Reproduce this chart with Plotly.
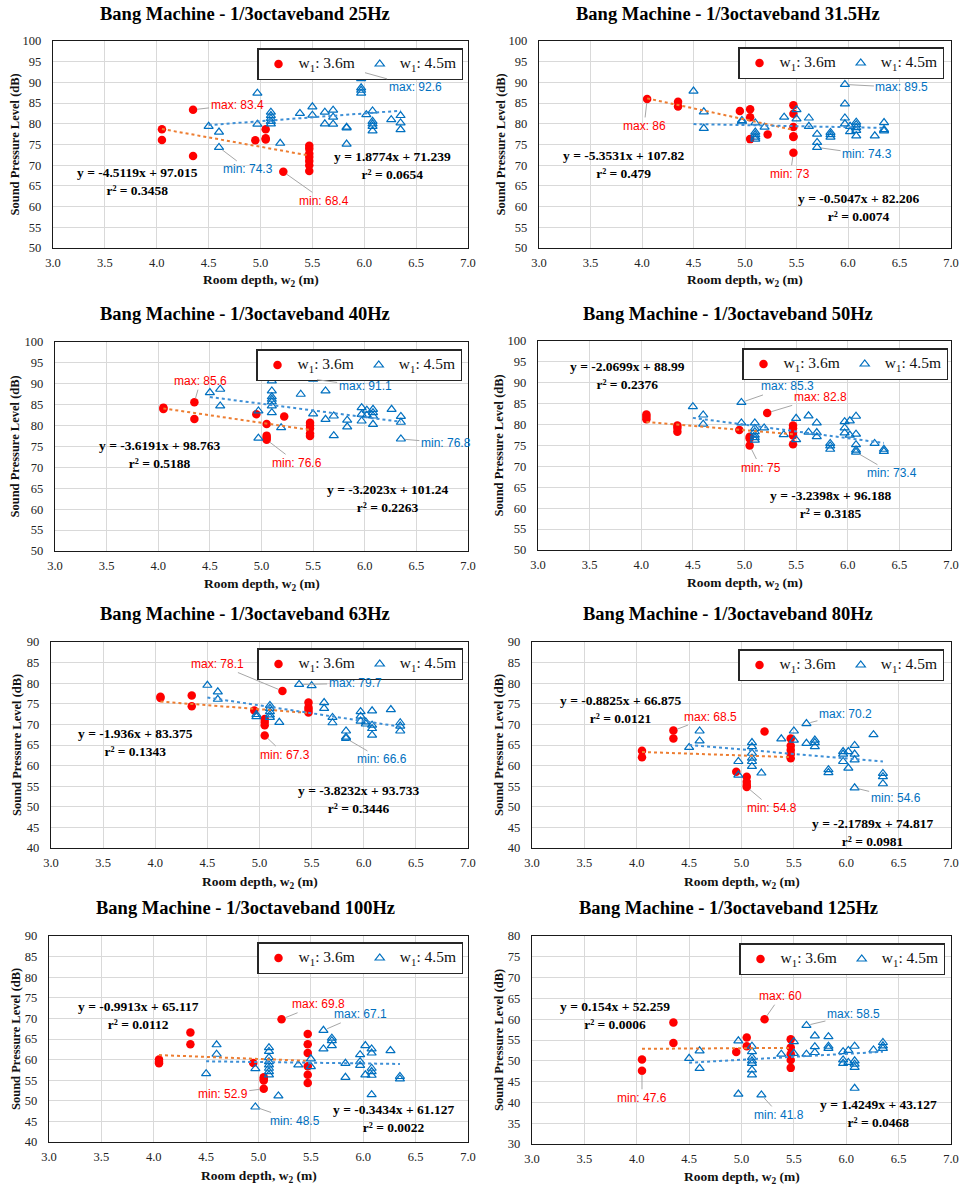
import plotly.graph_objects as go

W, H = 963, 1185

bands = ["25Hz", "31.5Hz", "40Hz", "50Hz", "63Hz", "80Hz", "100Hz", "125Hz"]

# ---------------- data (w1 = 3.6 m, red) ----------------
red_x_25 = [4.05, 4.05, 4.35, 4.35, 4.95, 5.05, 5.05, 5.05, 5.22, 5.47, 5.47, 5.47, 5.47, 5.47, 5.47, 5.47]
red_y_25 = [78.7, 76.1, 83.4, 72.2, 76.0, 78.7, 76.2, 76.5, 68.4, 74.7, 74.0, 72.8, 72.0, 71.0, 70.0, 68.6]

red_x_31 = [4.05, 4.35, 4.35, 4.95, 5.05, 5.05, 5.05, 5.22, 5.47, 5.47, 5.47, 5.47, 5.47, 5.47]
red_y_31 = [86.0, 85.3, 84.2, 83.1, 83.5, 81.6, 76.3, 77.4, 84.5, 82.4, 79.2, 77.0, 76.8, 73.0]

red_x_40 = [4.05, 4.05, 4.35, 4.35, 4.95, 5.05, 5.05, 5.05, 5.05, 5.22, 5.47, 5.47, 5.47, 5.47, 5.47]
red_y_40 = [84.3, 84.0, 85.6, 81.6, 82.7, 80.4, 77.6, 77.1, 76.6, 82.2, 80.7, 80.0, 79.3, 78.1, 77.5]

red_x_50 = [4.05, 4.05, 4.05, 4.35, 4.35, 4.35, 4.95, 5.05, 5.05, 5.05, 5.22, 5.47, 5.47, 5.47, 5.47, 5.47]
red_y_50 = [82.4, 81.9, 81.3, 79.8, 79.2, 78.3, 78.7, 77.1, 76.7, 75.0, 82.8, 79.8, 79.1, 78.1, 77.4, 75.3]

red_x_63 = [4.05, 4.05, 4.35, 4.35, 4.95, 5.05, 5.05, 5.05, 5.05, 5.22, 5.47, 5.47, 5.47, 5.47]
red_y_63 = [76.7, 76.4, 77.0, 74.4, 73.4, 71.3, 70.6, 69.8, 67.3, 78.1, 75.3, 74.1, 73.5, 72.9]

red_x_80 = [4.05, 4.05, 4.35, 4.35, 4.95, 5.05, 5.05, 5.05, 5.05, 5.22, 5.47, 5.47, 5.47, 5.47, 5.47]
red_y_80 = [63.6, 62.0, 68.5, 66.6, 58.5, 57.3, 56.1, 55.3, 54.8, 68.3, 66.6, 64.8, 63.8, 62.8, 61.8]

red_x_100 = [4.05, 4.05, 4.05, 4.35, 4.35, 4.95, 5.05, 5.05, 5.05, 5.05, 5.22, 5.47, 5.47, 5.47, 5.47, 5.47, 5.47]
red_y_100 = [60.0, 59.5, 59.1, 66.6, 63.7, 59.2, 55.7, 55.3, 54.9, 52.9, 69.8, 66.2, 63.7, 61.6, 58.4, 56.3, 54.3]

red_x_125 = [4.05, 4.05, 4.35, 4.35, 4.95, 5.05, 5.05, 5.22, 5.47, 5.47, 5.47, 5.47, 5.47]
red_y_125 = [50.3, 47.6, 59.2, 54.3, 52.1, 55.6, 53.5, 60.0, 55.2, 53.2, 51.6, 50.2, 48.3]

# ---------------- data (w1 = 4.5 m, blue) ----------------
blue_x_25 = [4.5, 4.6, 4.6, 4.97, 4.97, 5.1, 5.1, 5.1, 5.1, 5.1, 5.19, 5.38, 5.5, 5.5, 5.62, 5.62,
             5.7, 5.7, 5.7, 5.83, 5.83, 5.83, 5.97, 5.97, 5.97, 5.97, 5.97, 6.02, 6.08, 6.08, 6.08,
             6.08, 6.08, 6.26, 6.35, 6.35, 6.35]
blue_y_25 = [79.4, 78.0, 74.3, 87.4, 79.9, 82.8, 82.0, 81.3, 80.6, 80.0, 75.3, 82.5, 84.1, 82.1, 82.8, 80.0,
             83.3, 81.6, 79.9, 79.2, 79.0, 75.1, 92.6, 90.9, 88.7, 88.1, 87.4, 82.2, 83.1, 80.6, 80.0,
             79.4, 78.3, 81.0, 82.0, 80.2, 78.6]

blue_x_31 = [4.5, 4.6, 4.6, 4.97, 4.97, 5.1, 5.1, 5.1, 5.1, 5.1, 5.19, 5.38, 5.5, 5.5, 5.62, 5.62,
             5.7, 5.7, 5.7, 5.83, 5.83, 5.83, 5.97, 5.97, 5.97, 5.97, 6.02, 6.02, 6.08, 6.08, 6.08,
             6.08, 6.08, 6.26, 6.35, 6.35, 6.35]
blue_y_31 = [87.9, 82.9, 78.9, 80.8, 80.5, 80.2, 78.0, 77.4, 76.8, 76.3, 79.2, 81.6, 83.4, 81.2, 81.4, 79.4,
             77.5, 75.5, 74.3, 77.9, 77.4, 76.8, 89.5, 84.8, 81.4, 80.0, 79.4, 78.1, 80.4, 79.8, 79.1,
             78.4, 77.1, 77.1, 80.3, 78.6, 78.3]

blue_x_40 = [4.5, 4.6, 4.6, 4.97, 4.97, 5.1, 5.1, 5.1, 5.1, 5.1, 5.1, 5.1, 5.19, 5.38, 5.5, 5.5, 5.62,
             5.62, 5.7, 5.7, 5.83, 5.83, 5.97, 5.97, 5.97, 6.02, 6.02, 6.08, 6.08, 6.08, 6.08, 6.26,
             6.35, 6.35, 6.35]
blue_y_40 = [87.9, 88.7, 84.7, 83.5, 77.0, 90.7, 88.3, 86.9, 86.3, 85.7, 84.7, 83.1, 79.5, 87.5, 91.1, 82.8, 88.3,
             81.5, 82.3, 77.6, 81.3, 79.7, 84.3, 82.7, 81.1, 83.7, 82.5, 83.9, 83.1, 82.3, 80.3, 83.9,
             82.2, 80.8, 76.8]

blue_x_50 = [4.5, 4.6, 4.6, 4.97, 4.97, 5.1, 5.1, 5.1, 5.1, 5.1, 5.1, 5.19, 5.38, 5.5, 5.5, 5.62, 5.62,
             5.7, 5.7, 5.7, 5.83, 5.83, 5.83, 5.97, 5.97, 5.97, 6.02, 6.02, 6.08, 6.08, 6.08, 6.08,
             6.08, 6.26, 6.35, 6.35]
blue_y_50 = [84.3, 82.3, 80.1, 85.3, 80.4, 80.4, 79.1, 78.3, 77.5, 76.9, 76.3, 79.2, 77.6, 81.5, 76.4, 82.1, 78.2,
             80.4, 78.1, 77.1, 75.5, 74.9, 74.1, 80.7, 79.2, 78.0, 80.9, 77.5, 82.0, 77.7, 75.2, 73.9,
             73.4, 75.5, 74.1, 73.6]

blue_x_63 = [4.5, 4.6, 4.6, 4.97, 4.97, 5.1, 5.1, 5.1, 5.1, 5.1, 5.19, 5.38, 5.5, 5.62, 5.62, 5.7, 5.7,
             5.83, 5.83, 5.83, 5.97, 5.97, 5.97, 6.02, 6.02, 6.08, 6.08, 6.08, 6.08, 6.26, 6.35, 6.35,
             6.35]
blue_y_63 = [79.5, 77.9, 76.1, 72.4, 71.9, 74.6, 73.9, 73.1, 72.3, 71.7, 70.5, 79.7, 79.4, 75.3, 73.9, 71.7, 70.4,
             68.4, 66.9, 66.6, 73.1, 72.0, 70.8, 70.6, 70.1, 73.3, 69.8, 69.0, 67.4, 73.6, 70.4, 69.6,
             68.4]

blue_x_80 = [4.5, 4.6, 4.6, 4.97, 4.97, 5.1, 5.1, 5.1, 5.1, 5.1, 5.1, 5.19, 5.38, 5.5, 5.5, 5.62, 5.62,
             5.7, 5.7, 5.7, 5.83, 5.83, 5.97, 5.97, 5.97, 6.02, 6.02, 6.08, 6.08, 6.08, 6.08, 6.26,
             6.35, 6.35, 6.35]
blue_y_80 = [64.4, 68.4, 66.0, 61.0, 57.7, 65.6, 64.6, 63.0, 61.8, 61.0, 59.8, 58.2, 66.5, 68.4, 66.2, 70.2, 65.4,
             66.2, 65.6, 64.6, 59.0, 58.3, 63.4, 62.8, 61.0, 63.4, 59.4, 64.9, 62.8, 61.4, 54.6, 67.5,
             58.1, 57.3, 55.6]

blue_x_100 = [4.5, 4.6, 4.6, 4.97, 4.97, 5.1, 5.1, 5.1, 5.1, 5.1, 5.1, 5.1, 5.1, 5.19, 5.38, 5.5, 5.5,
              5.62, 5.62, 5.7, 5.7, 5.7, 5.83, 5.83, 5.97, 5.97, 5.97, 6.02, 6.02, 6.08, 6.08, 6.08,
              6.08, 6.08, 6.08, 6.26, 6.35, 6.35]
blue_y_100 = [56.6, 63.6, 61.3, 57.8, 48.5, 62.9, 62.0, 60.5, 59.5, 58.7, 57.9, 57.1, 56.3, 51.2, 58.7, 60.2, 58.3,
              67.1, 62.6, 65.2, 64.6, 63.4, 59.1, 55.7, 61.2, 59.5, 58.6, 63.4, 56.3, 62.6, 61.6, 57.9,
              57.1, 56.2, 51.5, 62.2, 55.9, 55.3]

blue_x_125 = [4.5, 4.6, 4.6, 4.97, 4.97, 5.1, 5.1, 5.1, 5.1, 5.1, 5.1, 5.1, 5.19, 5.38, 5.5, 5.5, 5.62,
              5.62, 5.7, 5.7, 5.7, 5.83, 5.83, 5.83, 5.97, 5.97, 5.97, 6.02, 6.02, 6.08, 6.08, 6.08,
              6.08, 6.08, 6.26, 6.35, 6.35, 6.35]
blue_y_125 = [50.6, 52.4, 48.2, 54.8, 42.0, 53.5, 52.2, 50.8, 50.0, 49.4, 47.8, 46.6, 41.8, 51.6, 54.6, 51.8, 58.5,
              51.6, 56.0, 53.4, 52.0, 55.8, 53.5, 53.0, 52.2, 50.2, 49.4, 52.5, 49.6, 53.5, 50.0, 49.2,
              48.4, 43.4, 52.6, 54.4, 53.6, 53.0]

red_x = [red_x_25, red_x_31, red_x_40, red_x_50, red_x_63, red_x_80, red_x_100, red_x_125]
red_y = [red_y_25, red_y_31, red_y_40, red_y_50, red_y_63, red_y_80, red_y_100, red_y_125]
blue_x = [blue_x_25, blue_x_31, blue_x_40, blue_x_50, blue_x_63, blue_x_80, blue_x_100, blue_x_125]
blue_y = [blue_y_25, blue_y_31, blue_y_40, blue_y_50, blue_y_63, blue_y_80, blue_y_100, blue_y_125]

# linear trendlines (as printed on the chart)
red_slope = [-4.5119, -5.3531, -3.6191, -2.0699, -1.936, -0.8825, -0.9913, 0.154]
red_intercept = [97.015, 107.82, 98.763, 88.99, 83.375, 66.875, 65.117, 52.259]
red_r2 = ["0.3458", "0.479", "0.5188", "0.2376", "0.1343", "0.0121", "0.0112", "0.0006"]
blue_slope = [1.8774, -0.5047, -3.2023, -3.2398, -3.8232, -2.1789, -0.3434, 1.4249]
blue_intercept = [71.239, 82.206, 101.24, 96.188, 93.733, 74.817, 61.127, 43.127]
blue_r2 = ["0.0654", "0.0074", "0.2263", "0.3185", "0.3446", "0.0981", "0.0022", "0.0468"]

y_ranges = [(50, 100), (50, 100), (50, 100), (50, 100), (40, 90), (40, 90), (40, 90), (30, 80)]

# ---------------- layout geometry (pixels) ----------------
rects = [(53, 468, 41, 248), (539, 951, 41, 248), (55, 468, 342, 551), (538, 951, 341, 550),
         (51, 468, 642, 848), (532, 951, 642, 848), (49, 468, 936, 1142), (532, 951, 936, 1144)]
title_pos = [(245, 14), (728, 14), (245, 314), (728, 314), (245, 614), (728, 614), (245, 908), (728, 908)]
ytitle_x = [14, 500, 15, 498, 17, 499, 16, 499]
xtitle_y = [281, 281, 584, 583, 882, 882, 1176, 1177]
legend_box = [(463, 48), (944, 47), (462, 349), (948, 348), (463, 648), (944, 649), (463, 942), (945, 943)]
red_eq_pos = [(137, 181), (623, 164), (159, 454), (627, 375), (135, 742), (620, 709), (138, 1015), (615, 1015)]
blue_eq_pos = [(392, 166), (858, 207), (387, 498), (830, 504), (358, 799), (872, 832), (393, 1118), (878, 1113)]
# label offsets: red max, red min, blue max, blue min
lbl_off = [
    [(44, -5), (41, 29), (54, 15), (29, 22)],
    [(-3, 27), (-3, 21), (57, 3), (50, 7)],
    [(6, -21), (30, 23), (52, 7), (45, 4)],
    [(53, -16), (11, 22), (46, -16), (36, 21)],
    [(-65, -27), (20, 19), (56, -1), (36, 21)],
    [(37, -14), (25, 21), (39, -10), (41, 10)],
    [(37, -15), (-41, 5), (37, -16), (40, 14)],
    [(16, -23), (0, 27), (47, -11), (18, 20)],
]

RED = "#FF0000"
BLUE = "#0070C0"
ORANGE = "#ED7D31"
LBLUE = "#3D8FD6"
SERIF = "Liberation Serif"
SANS = "Liberation Sans"


def px(x):
    return x / W


def py(y):
    return 1 - y / H


fig = go.Figure()
layout = dict(width=W, height=H, autosize=False, margin=dict(l=0, r=0, t=0, b=0, pad=0, autoexpand=False),
              paper_bgcolor="white", plot_bgcolor="white", showlegend=True)
annotations = []


def fmt(v):
    return f"{v:g}"


def leg_name(t):
    return "<span style='font-size:15.5px'>" + t + "</span>"


for i in range(8):
    n = i + 1
    xa = "x" if n == 1 else f"x{n}"
    ya = "y" if n == 1 else f"y{n}"
    lg = "legend" if n == 1 else f"legend{n}"
    l, r, t, b = rects[i]

    layout["xaxis" if n == 1 else f"xaxis{n}"] = dict(
        domain=[px(l), px(r)], anchor=ya, range=[3, 7], dtick=0.5, tick0=3, tickformat=".1f",
        showgrid=True, gridcolor="#D9D9D9", gridwidth=1, zeroline=False, automargin=False,
        showline=True, mirror=True, linecolor="#1a1a1a", linewidth=1.3,
        tickfont=dict(family=SERIF, size=12.5, color="#222"), ticks="", ticklabelstandoff=3)
    layout["yaxis" if n == 1 else f"yaxis{n}"] = dict(
        domain=[py(b), py(t)], anchor=xa, range=list(y_ranges[i]), dtick=5,
        showgrid=True, gridcolor="#D9D9D9", gridwidth=1, zeroline=False, automargin=False,
        showline=True, mirror=True, linecolor="#1a1a1a", linewidth=1.3,
        tickfont=dict(family=SERIF, size=12.5, color="#222"), ticks="", ticklabelstandoff=8)

    lx, ly = legend_box[i]
    layout[lg] = dict(x=px(lx), y=py(ly), xanchor="right", yanchor="top", orientation="h",
                      bgcolor="white", bordercolor="#262626", borderwidth=1.5,
                      font=dict(family=SERIF, size=11, color="#111"), itemsizing="trace",
                      tracegroupgap=0)

    fig.add_trace(go.Scatter(
        x=red_x[i], y=red_y[i], mode="markers", xaxis=xa, yaxis=ya, legend=lg,
        name=leg_name("w<sub>1</sub>: 3.6m"),
        marker=dict(symbol="circle", size=8.5, color=RED, line=dict(width=0))))
    fig.add_trace(go.Scatter(
        x=blue_x[i], y=blue_y[i], mode="markers", xaxis=xa, yaxis=ya, legend=lg,
        name=leg_name("w<sub>1</sub>: 4.5m"),
        marker=dict(symbol="triangle-up-open", size=8, color=BLUE, line=dict(width=1.2, color=BLUE))))

    # trendlines
    rx0, rx1 = min(red_x[i]), max(red_x[i])
    fig.add_trace(go.Scatter(
        x=[rx0, rx1], y=[red_slope[i] * rx0 + red_intercept[i], red_slope[i] * rx1 + red_intercept[i]],
        mode="lines", xaxis=xa, yaxis=ya, showlegend=False, hoverinfo="skip",
        line=dict(color=ORANGE, width=2, dash="dot")))
    bx0, bx1 = min(blue_x[i]), max(blue_x[i])
    fig.add_trace(go.Scatter(
        x=[bx0, bx1], y=[blue_slope[i] * bx0 + blue_intercept[i], blue_slope[i] * bx1 + blue_intercept[i]],
        mode="lines", xaxis=xa, yaxis=ya, showlegend=False, hoverinfo="skip",
        line=dict(color=LBLUE, width=2, dash="dot")))

    # titles
    tx, ty = title_pos[i]
    annotations.append(dict(xref="paper", yref="paper", x=px(tx), y=py(ty), xanchor="center", yanchor="middle",
                            text="<b>Bang Machine - 1/3octaveband " + bands[i] + "</b>", showarrow=False,
                            font=dict(family=SERIF, size=18.5, color="#000")))
    annotations.append(dict(xref="paper", yref="paper", x=px(ytitle_x[i]), y=py((t + b) / 2),
                            xanchor="center", yanchor="middle", textangle=-90,
                            text="<b>Sound Pressure Level (dB)</b>", showarrow=False,
                            font=dict(family=SERIF, size=12.5, color="#111")))
    annotations.append(dict(xref="paper", yref="paper", x=px((l + r) / 2), y=py(xtitle_y[i]),
                            xanchor="center", yanchor="middle",
                            text="<b>Room depth, w<sub>2</sub> (m)</b>", showarrow=False,
                            font=dict(family=SERIF, size=13.5, color="#111")))

    # equations
    for (ex, ey), s, c, r2 in [(red_eq_pos[i], red_slope[i], red_intercept[i], red_r2[i]),
                               (blue_eq_pos[i], blue_slope[i], blue_intercept[i], blue_r2[i])]:
        annotations.append(dict(xref="paper", yref="paper", x=px(ex), y=py(ey), xanchor="center",
                                yanchor="middle", showarrow=False, align="center",
                                text=f"<b>y = {fmt(s)}x + {fmt(c)}<br>r² = {r2}</b>",
                                font=dict(family=SERIF, size=13.5, color="#000")))

    # max / min labels
    ry, by = red_y[i], blue_y[i]
    items = [
        (red_x[i][ry.index(max(ry))], max(ry), "max: " + fmt(max(ry)), RED, lbl_off[i][0]),
        (red_x[i][ry.index(min(ry))], min(ry), "min: " + fmt(min(ry)), RED, lbl_off[i][1]),
        (blue_x[i][by.index(max(by))], max(by), "max: " + fmt(max(by)), BLUE, lbl_off[i][2]),
        (blue_x[i][by.index(min(by))], min(by), "min: " + fmt(min(by)), BLUE, lbl_off[i][3]),
    ]
    for (x0, y0, txt, col, (ox, oy)) in items:
        annotations.append(dict(xref=xa, yref=ya, x=x0, y=y0, ax=ox, ay=oy, text=txt,
                                showarrow=True, arrowhead=0, arrowwidth=1, arrowcolor="#A6A6A6",
                                standoff=4, startstandoff=0,
                                font=dict(family=SANS, size=12, color=col)))

layout["annotations"] = annotations
fig.update_layout(**layout)
fig.write_html("out.html", config={"displayModeBar": False},
               post_script="document.body.style.margin='0';document.body.style.overflow='hidden';")
